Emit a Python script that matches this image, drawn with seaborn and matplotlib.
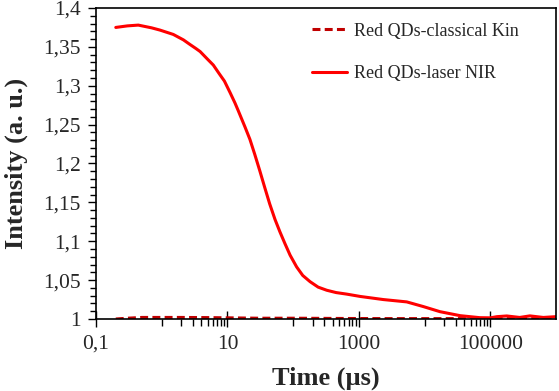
import numpy as np
import pandas as pd
import matplotlib
matplotlib.use("Agg")
import matplotlib.pyplot as plt
import matplotlib.ticker as mticker
import seaborn as sns

# data
laser_t = [0.2, 0.3, 0.44, 0.7, 0.94, 1.5, 2.14, 2.7, 3.3, 3.84, 5, 6.1, 7.5, 9,
           11, 13, 14.6, 18.5, 22, 26, 31, 37, 44, 53, 63, 75, 90, 113, 140, 181,
           240, 324, 450, 654, 1050, 2360, 5350, 9560, 17200, 34700, 69600,
           1.0e5, 1.26e5, 1.78e5, 2.8e5, 4.0e5, 6.4e5, 1.0e6]
laser_y = [1.375, 1.377, 1.378, 1.3745, 1.3716, 1.366, 1.359, 1.353, 1.348, 1.344,
           1.334, 1.3266, 1.3155, 1.306, 1.291, 1.278, 1.268, 1.247, 1.231, 1.212,
           1.191, 1.169, 1.148, 1.128, 1.112, 1.097, 1.082, 1.067, 1.056, 1.048,
           1.041, 1.037, 1.034, 1.032, 1.029, 1.025, 1.022, 1.016, 1.0094, 1.0043,
           1.0017, 1.0015, 1.003, 1.0039, 1.002, 1.004, 1.002, 1.003]

classic_t = [0.2, 0.3, 0.5, 1, 2, 5, 10, 30, 100, 300, 1000, 3000, 10000,
             30000, 1.0e5, 3.0e5, 1.0e6]
classic_y = [1.0, 1.001, 1.002, 1.002, 1.002, 1.0018, 1.0015, 1.001, 1.001,
             1.0008, 1.0006, 1.0005, 1.0005, 1.0005, 1.0005, 1.0005, 1.0005]

x_ticks = [0.1, 10, 1000, 100000]
y_ticks = [1.0, 1.05, 1.1, 1.15, 1.2, 1.25, 1.3, 1.35, 1.4]

sns.set_style("ticks")
plt.rcParams["font.family"] = ["Liberation Serif", "DejaVu Serif"]

fig = plt.figure(figsize=(5.59, 3.91), dpi=100)
ax = fig.add_axes([96 / 559, 1 - 319 / 391, 460 / 559, 311 / 391])

sns.lineplot(x=classic_t, y=classic_y, ax=ax, color="#C00000", lw=2.2,
             linestyle=(0, (2.6, 1.4)), label="Red QDs-classical Kin",
             estimator=None, sort=False)
sns.lineplot(x=laser_t, y=laser_y, ax=ax, color="#FF0000", lw=2.2,
             label="Red QDs-laser NIR", estimator=None, sort=False)

ax.set_xscale("log")
ax.set_xlim(0.1, 1e6)
ax.set_ylim(1.0, 1.4)

ax.xaxis.set_major_locator(mticker.FixedLocator(x_ticks))
minor_x = [m * 10.0 ** e for e in (0, 2, 4) for m in range(1, 10)]
ax.xaxis.set_minor_locator(mticker.FixedLocator(minor_x))
ax.xaxis.set_major_formatter(
    mticker.FuncFormatter(lambda v, p: ("%g" % v).replace(".", ",")))
ax.xaxis.set_minor_formatter(mticker.NullFormatter())

ax.yaxis.set_major_locator(mticker.FixedLocator(y_ticks))
ax.yaxis.set_minor_locator(mticker.MultipleLocator(0.01))
ax.yaxis.set_major_formatter(
    mticker.FuncFormatter(lambda v, p: ("%g" % round(v, 2)).replace(".", ",")))

ax.tick_params(axis="x", which="major", direction="inout", length=11, width=1,
               labelsize=15.5, pad=6, color="black")
ax.tick_params(axis="x", which="minor", direction="out", length=5, width=1,
               color="black")
ax.tick_params(axis="y", which="major", direction="out", length=6, width=1,
               labelsize=15.5, pad=5, color="black")
ax.tick_params(axis="y", which="minor", direction="out", length=4, width=1,
               color="black")

for s in ax.spines.values():
    s.set_visible(True)
    s.set_color("black")
    s.set_linewidth(1.2)

ax.set_xlabel("Time (µs)", fontsize=19, fontweight="bold", labelpad=9)
ax.set_ylabel("Intensity (a. u.)", fontsize=19, fontweight="bold", labelpad=11)

ax.legend(loc="upper left", bbox_to_anchor=(0.435, 1.005), frameon=False,
          fontsize=13, handlelength=1.9, handletextpad=0.4, labelspacing=1.4)

fig.savefig("out.png", dpi=100)
